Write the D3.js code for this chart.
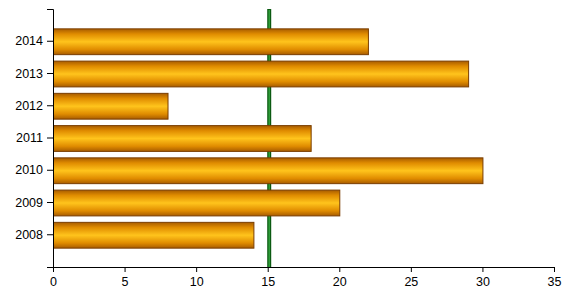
<!DOCTYPE html>
<html lang="en">
<head>
    <meta charset="utf-8">
    <title>Bar chart</title>
    <script src="https://d3js.org/d3.v7.min.js"></script>
    <style>
        body { margin: 0; background: #fff; }
        .axis text { font-family: "Liberation Sans", Arial, sans-serif; font-size: 12.5px; fill: #000; }
        .axis path, .axis line { stroke: #000; }
    </style>
</head>
<body>
    <div id="chart"></div>
    <script>
        // data
        const years = ["2008", "2009", "2010", "2011", "2012", "2013", "2014"];
        const values = [14, 20, 30, 18, 8, 29, 22];
        const xTicks = [0, 5, 10, 15, 20, 25, 30, 35];
        const targetValue = 15;

        const width = 571, height = 298;
        const margin = {top: 9, right: 17, bottom: 31, left: 53};

        const svg = d3.select("#chart").append("svg")
            .attr("width", width)
            .attr("height", height);

        const defs = svg.append("defs");
        const grad = defs.append("linearGradient")
            .attr("id", "barGrad")
            .attr("x1", 0).attr("y1", 0).attr("x2", 0).attr("y2", 1);
        grad.append("stop").attr("offset", "0%").attr("stop-color", "#a85c00");
        grad.append("stop").attr("offset", "20%").attr("stop-color", "#e08c00");
        grad.append("stop").attr("offset", "50%").attr("stop-color", "#ffc41c");
        grad.append("stop").attr("offset", "80%").attr("stop-color", "#e08c00");
        grad.append("stop").attr("offset", "100%").attr("stop-color", "#a85c00");

        const x = d3.scaleLinear()
            .domain([0, 35])
            .range([margin.left, width - margin.right]);

        const y = d3.scaleBand()
            .domain(years)
            .range([height - margin.bottom, margin.top])
            .paddingInner(0.2)
            .paddingOuter(0.6);

        // target line, drawn behind the bars
        const tx = x(targetValue) + 1.5;
        svg.append("line")
            .attr("x1", tx).attr("x2", tx)
            .attr("y1", margin.top).attr("y2", height - margin.bottom)
            .attr("stroke", "#0b5a12")
            .attr("stroke-width", 4);
        svg.append("line")
            .attr("x1", tx).attr("x2", tx)
            .attr("y1", margin.top + 1).attr("y2", height - margin.bottom)
            .attr("stroke", "#2fa03a")
            .attr("stroke-width", 1.5);

        const data = years.map((yr, i) => ({year: yr, value: values[i]}));

        svg.append("g")
            .selectAll("rect")
            .data(data)
            .join("rect")
            .attr("x", x(0) + 0.5)
            .attr("y", d => y(d.year) + 0.5)
            .attr("width", d => x(d.value) - x(0))
            .attr("height", y.bandwidth())
            .attr("fill", "url(#barGrad)")
            .attr("stroke", "#7a3e00")
            .attr("stroke-width", 1);

        svg.append("g")
            .attr("class", "axis")
            .attr("transform", `translate(0,${height - margin.bottom})`)
            .call(d3.axisBottom(x).tickValues(xTicks).tickSizeOuter(0).tickSize(5).tickPadding(5));

        svg.append("g")
            .attr("class", "axis")
            .attr("transform", `translate(${margin.left},0)`)
            .call(d3.axisLeft(y).tickSize(6).tickSizeOuter(6).tickPadding(4));
    </script>
</body>
</html>
